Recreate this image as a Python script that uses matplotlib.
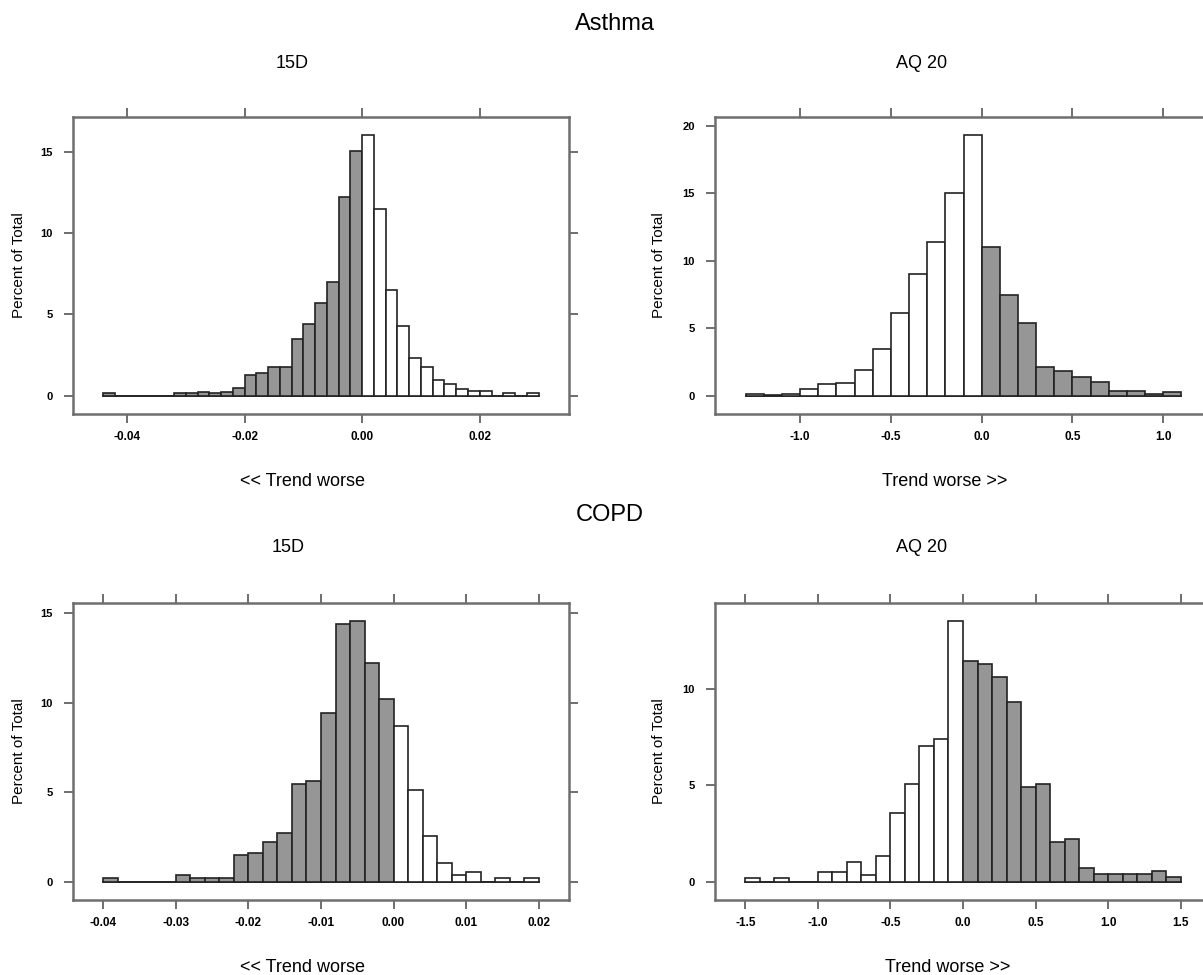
import numpy as np
import matplotlib.pyplot as plt

plt.rcParams['font.family'] = ['Liberation Sans', 'DejaVu Sans']

W, H = 1203, 975

# percent of total per bin (left to right), bins of fixed width
asthma_15d_start = -0.044
asthma_15d_width = 0.002
asthma_15d_pct = [0.15, 0, 0, 0, 0, 0, 0.15, 0.15, 0.25, 0.15, 0.25, 0.45,
                  1.3, 1.4, 1.75, 1.75, 3.5, 4.4, 5.7, 7.0, 12.2, 15.05,
                  16.0, 11.45, 6.5, 4.3, 2.3, 1.75, 0.95, 0.7, 0.4, 0.3, 0.3,
                  0, 0.15, 0, 0.15]

asthma_aq20_start = -1.3
asthma_aq20_width = 0.1
asthma_aq20_pct = [0.1, 0.05, 0.1, 0.5, 0.9, 0.95, 1.9, 3.5, 6.1, 9.0, 11.4,
                   15.0, 19.3, 11.0, 7.5, 5.4, 2.1, 1.8, 1.4, 1.05, 0.35,
                   0.35, 0.1, 0.3]

copd_15d_start = -0.040
copd_15d_width = 0.002
copd_15d_pct = [0.2, 0, 0, 0, 0, 0.4, 0.2, 0.2, 0.2, 1.5, 1.6, 2.2, 2.75,
                5.45, 5.6, 9.45, 14.4, 14.55, 12.2, 10.2, 8.7, 5.1, 2.55,
                1.05, 0.35, 0.55, 0, 0.2, 0, 0.2]

copd_aq20_start = -1.5
copd_aq20_width = 0.1
copd_aq20_pct = [0.2, 0, 0.2, 0, 0, 0.5, 0.5, 1.05, 0.35, 1.35, 3.55, 5.05,
                 7.05, 7.4, 13.5, 11.45, 11.3, 10.6, 9.3, 4.9, 5.05, 2.05,
                 2.2, 0.7, 0.4, 0.4, 0.4, 0.4, 0.55, 0.25]

ticks_15d_asthma = [-0.04, -0.02, 0.0, 0.02]
ticks_15d_copd = [-0.04, -0.03, -0.02, -0.01, 0.0, 0.01, 0.02]
ticks_aq20_asthma = [-1.0, -0.5, 0.0, 0.5, 1.0]
ticks_aq20_copd = [-1.5, -1.0, -0.5, 0.0, 0.5, 1.0, 1.5]

GRAY = '#969696'
FRAME = '#6e6e6e'


def add_axes_px(fig, left, right, top, bottom):
    return fig.add_axes([left / W, 1 - bottom / H, (right - left) / W, (bottom - top) / H])


def hist_panel(ax, start, width, pct, worse_negative, xticks, xfmt, yticks):
    pct = np.array(pct)
    edges = start + width * np.arange(len(pct) + 1)
    lefts = edges[:-1]
    # shade the "worse" side of zero
    if worse_negative:
        shade = lefts < -1e-9
    else:
        shade = lefts > -1e-9
    colors = [GRAY if s else 'white' for s in shade]
    ax.plot([edges[0], edges[-1]], [0, 0], color='#333333', lw=1.3, zorder=1)
    ax.bar(lefts, pct, width=width, align='edge', color=colors,
           edgecolor='#222222', linewidth=1.2, zorder=2)

    lo, hi = edges[0], edges[-1]
    pad = 0.07 * (hi - lo)
    ax.set_xlim(lo - pad, hi + pad)
    ax.set_ylim(-0.07 * pct.max(), 1.07 * pct.max())

    ax.set_xticks(xticks)
    ax.set_xticklabels([xfmt.format(t) for t in xticks])
    ax.set_yticks(yticks)
    ax.set_yticklabels([str(t) for t in yticks])
    for lab in ax.get_xticklabels() + ax.get_yticklabels():
        lab.set_fontweight('bold')
    ax.tick_params(axis='both', direction='out', length=6.5, width=1.2,
                   color='#555555', top=True, right=True)
    ax.tick_params(axis='x', pad=6, labelsize=8.5)
    ax.tick_params(axis='y', pad=8, labelsize=8)
    for sp in ax.spines.values():
        sp.set_color(FRAME)
        sp.set_linewidth(1.8)


fig = plt.figure(figsize=(W / 100, H / 100), dpi=100)

ax1 = add_axes_px(fig, 73, 569, 117, 414)
hist_panel(ax1, asthma_15d_start, asthma_15d_width, asthma_15d_pct, True,
           ticks_15d_asthma, '{:.2f}', [0, 5, 10, 15])

ax2 = add_axes_px(fig, 715, 1212, 117, 414)
hist_panel(ax2, asthma_aq20_start, asthma_aq20_width, asthma_aq20_pct, False,
           ticks_aq20_asthma, '{:.1f}', [0, 5, 10, 15, 20])

ax3 = add_axes_px(fig, 73, 569, 603, 900)
hist_panel(ax3, copd_15d_start, copd_15d_width, copd_15d_pct, True,
           ticks_15d_copd, '{:.2f}', [0, 5, 10, 15])

ax4 = add_axes_px(fig, 715, 1211, 603, 900)
hist_panel(ax4, copd_aq20_start, copd_aq20_width, copd_aq20_pct, False,
           ticks_aq20_copd, '{:.1f}', [0, 5, 10])


def ftext(x, y, s, **kw):
    fig.text(x / W, 1 - y / H, s, ha='center', va='center', **kw)


ftext(615, 24, 'Asthma', fontsize=17)
ftext(610, 515, 'COPD', fontsize=17)

ftext(292, 63, '15D', fontsize=13)
ftext(922, 63, 'AQ 20', fontsize=13)
ftext(288, 548, '15D', fontsize=13)
ftext(922, 548, 'AQ 20', fontsize=13)

ftext(303, 482, '<< Trend worse', fontsize=13)
ftext(945, 482, 'Trend worse >>', fontsize=13)
ftext(303, 967, '<< Trend worse', fontsize=13)
ftext(948, 967, 'Trend worse >>', fontsize=13)

for xpos, ypos in [(19, 265), (659, 265), (19, 751), (659, 751)]:
    ftext(xpos, ypos, 'Percent of Total', fontsize=11, rotation=90)

fig.savefig('out.png', dpi=100)
